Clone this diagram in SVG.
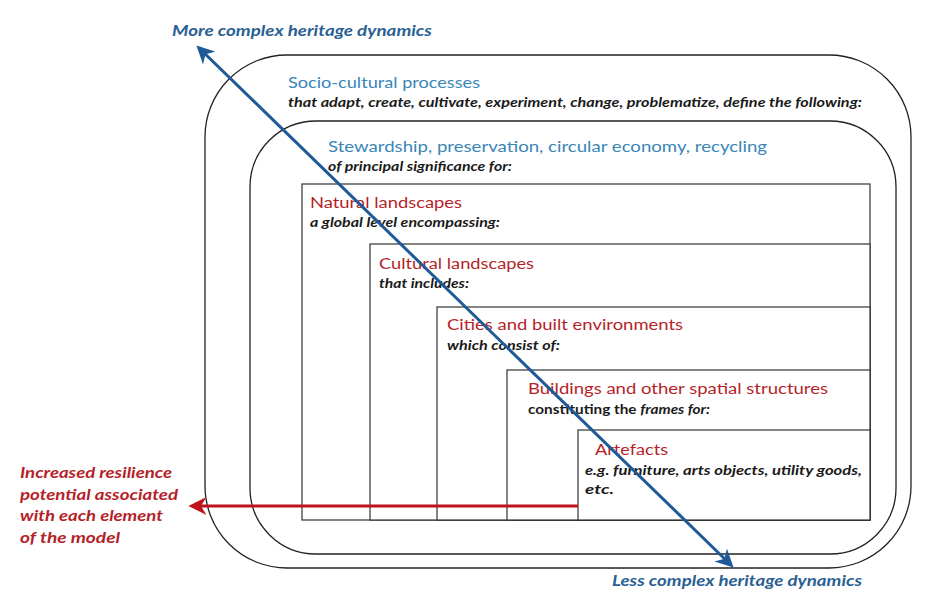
<svg xmlns="http://www.w3.org/2000/svg" width="932" height="591" viewBox="0 0 932 591">
<defs>
<style>
.frame{fill:none;stroke:#222;stroke-width:1.3}
.box{fill:#fff;stroke:#333;stroke-width:1.2}
.t{font-family:Lato,"Open Sans","Liberation Sans",sans-serif}
.blue{fill:#3a86b6;font-size:16px}
.dblue{fill:#2a5f93;font-size:15px;font-weight:bold;font-style:italic}
.red{fill:#b51f2a;font-size:15.5px}
.sub{fill:#1a1a1a;font-size:13px;font-weight:bold;font-style:italic}
.side{fill:#b51f2a;font-size:15px;font-weight:bold;font-style:italic}
</style>
<marker id="ab" viewBox="0 0 10 10" refX="8" refY="5" markerWidth="6" markerHeight="6" orient="auto-start-reverse" markerUnits="strokeWidth">
<path d="M0,0 L10,5 L0,10 L3,5 Z" fill="#1f5a96"/>
</marker>
<marker id="ar" viewBox="0 0 10 10" refX="8" refY="5" markerWidth="6" markerHeight="6" orient="auto" markerUnits="strokeWidth">
<path d="M0,0 L10,5 L0,10 L3,5 Z" fill="#c0141c"/>
</marker>
</defs>
<rect width="932" height="591" fill="#fff"/>

<g id="socio-cultural">
<rect class="frame" x="205" y="55" width="706" height="513" rx="82" ry="82"/>
<text class="t blue" x="288" y="88" textLength="192" lengthAdjust="spacingAndGlyphs">Socio-cultural processes</text>
<text class="t sub" x="288" y="107" textLength="574" lengthAdjust="spacingAndGlyphs">that adapt, create, cultivate, experiment, change, problematize, define the following:</text>
</g>

<g id="stewardship">
<rect class="frame" x="250" y="121" width="646" height="433" rx="66" ry="66"/>
<text class="t blue" x="328" y="152" textLength="439" lengthAdjust="spacingAndGlyphs">Stewardship, preservation, circular economy, recycling</text>
<text class="t sub" x="328" y="171" textLength="184" lengthAdjust="spacingAndGlyphs">of principal significance for:</text>
</g>

<g id="natural">
<rect class="box" x="302" y="184" width="568" height="336"/>
<text class="t red" x="310" y="208" textLength="152" lengthAdjust="spacingAndGlyphs">Natural landscapes</text>
<text class="t sub" x="310" y="227" textLength="190" lengthAdjust="spacingAndGlyphs">a global level encompassing:</text>
</g>

<g id="cultural">
<rect class="box" x="370" y="244" width="500" height="276"/>
<text class="t red" x="379" y="269" textLength="155" lengthAdjust="spacingAndGlyphs">Cultural landscapes</text>
<text class="t sub" x="379" y="288" textLength="90" lengthAdjust="spacingAndGlyphs">that includes:</text>
</g>

<g id="cities">
<rect class="box" x="437" y="307" width="433" height="213"/>
<text class="t red" x="447" y="330" textLength="236" lengthAdjust="spacingAndGlyphs">Cities and built environments</text>
<text class="t sub" x="447" y="350" textLength="113" lengthAdjust="spacingAndGlyphs">which consist of:</text>
</g>

<g id="buildings">
<rect class="box" x="507" y="370" width="363" height="150"/>
<text class="t red" x="528" y="394" textLength="300" lengthAdjust="spacingAndGlyphs">Buildings and other spatial structures</text>
<text class="t sub" x="528" y="414" textLength="182" lengthAdjust="spacingAndGlyphs"><tspan font-style="normal">constituting the </tspan>frames for:</text>
</g>

<g id="artefacts">
<rect class="box" x="578" y="430" width="292" height="90"/>
<text class="t red" x="595" y="455" textLength="73" lengthAdjust="spacingAndGlyphs">Artefacts</text>
<text class="t sub" x="585" y="475" textLength="277" lengthAdjust="spacingAndGlyphs">e.g. furniture, arts objects, utility goods,</text>
<text class="t sub" x="585" y="494" textLength="29" lengthAdjust="spacingAndGlyphs" font-style="normal">etc.</text>
</g>

<g id="connectors">
<line x1="578" y1="506" x2="192" y2="506" stroke="#c0141c" stroke-width="3" marker-end="url(#ar)"/>
<line x1="199" y1="48" x2="731" y2="565" stroke="#1f5a96" stroke-width="3" marker-start="url(#ab)" marker-end="url(#ab)"/>
</g>

<g id="labels">
<text class="t dblue" x="172" y="36" textLength="260" lengthAdjust="spacingAndGlyphs">More complex heritage dynamics</text>
<text class="t dblue" x="612" y="586" textLength="250" lengthAdjust="spacingAndGlyphs">Less complex heritage dynamics</text>
<text class="t side" x="20" y="478" textLength="152" lengthAdjust="spacingAndGlyphs">Increased resilience</text>
<text class="t side" x="20" y="500" textLength="158" lengthAdjust="spacingAndGlyphs">potential associated</text>
<text class="t side" x="20" y="521" textLength="143" lengthAdjust="spacingAndGlyphs">with each element</text>
<text class="t side" x="20" y="543" textLength="100" lengthAdjust="spacingAndGlyphs">of the model</text>
</g>
</svg>
